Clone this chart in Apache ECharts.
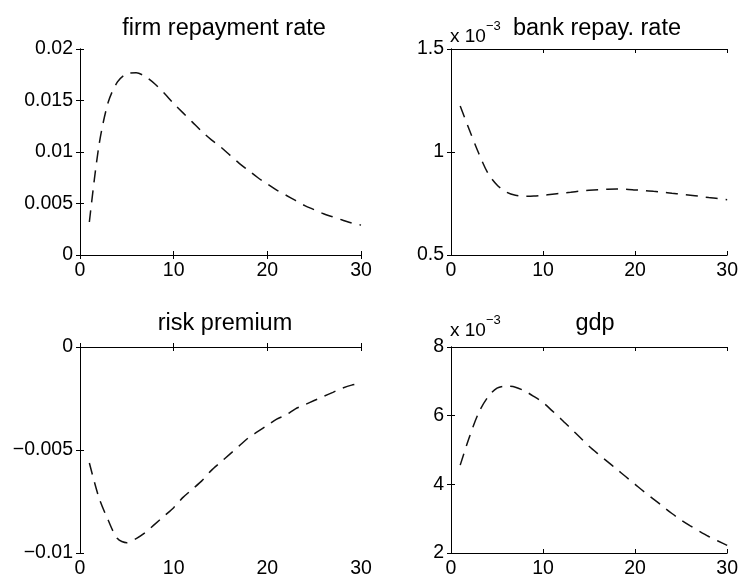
<!DOCTYPE html>
<html>
<head>
<meta charset="utf-8">
<script src="https://cdn.jsdelivr.net/npm/echarts@6/dist/echarts.min.js"></script>
<style>html,body{margin:0;padding:0;background:#fff}#c{width:741px;height:580px}</style>
</head>
<body>
<div id="c"></div>
<script>
var periods = [];
for (var i = 1; i <= 30; i++) periods.push(i);

var firmRepay = [0.0032,0.0105,0.0148,0.0168,0.0176,0.0177,0.0173,0.0166,0.0157,0.0147,
  0.0138,0.0129,0.0120,0.0112,0.0105,0.0097,0.0089,0.0082,0.0075,0.0069,
  0.0063,0.0058,0.0053,0.0048,0.0044,0.0040,0.0037,0.0034,0.0031,0.0029];

var bankRepay = [0.001223,0.001107,0.000995,0.000898,0.000840,0.000806,0.000790,0.000785,0.000786,0.000790,
  0.000795,0.000800,0.000805,0.000810,0.000814,0.000817,0.000819,0.000820,0.000819,0.000816,
  0.000813,0.000809,0.000805,0.000800,0.000795,0.000790,0.000785,0.000779,0.000774,0.000768];

var riskPremium = [-0.00563,-0.00728,-0.0084,-0.0093,-0.0095,-0.0093,-0.0090,-0.0086,-0.0082,-0.0078,
  -0.0073,-0.0069,-0.0065,-0.0060,-0.0056,-0.0052,-0.0048,-0.0044,-0.0041,-0.0038,
  -0.0035,-0.0033,-0.0030,-0.0028,-0.0026,-0.0024,-0.0022,-0.0020,-0.00185,-0.00175];

var gdp = [0.00456,0.00538,0.00608,0.00654,0.00680,0.00686,0.00683,0.00672,0.00656,0.00638,
  0.00614,0.00589,0.00563,0.00537,0.00511,0.00488,0.00466,0.00444,0.00422,0.00400,
  0.00378,0.00357,0.00336,0.00315,0.00296,0.00279,0.00263,0.00248,0.00235,0.00222];

var titles = ['firm repayment rate', 'bank repay. rate', 'risk premium', 'gdp'];
var yMins = [0, 0.0005, -0.01, 0.002];
var yMaxs = [0.02, 0.0015, 0, 0.008];
var yIntervals = [0.005, 0.0005, 0.005, 0.002];
var yScales = [1, 1000, 1, 1000];
var seriesData = [firmRepay, bankRepay, riskPremium, gdp];
var xTicks = [0, 10, 20, 30];

var FONT = 'Liberation Sans, Arial, sans-serif';
var grids = [
  {left: 80, top: 49, width: 281, height: 206},
  {left: 451, top: 49, width: 280, height: 206},
  {left: 80, top: 347, width: 281, height: 206},
  {left: 451, top: 347, width: 280, height: 206}
];
var titlePos = [[219, 12], [592, 12], [220, 307], [590, 307]];

var option = {
  animation: false,
  backgroundColor: '#fff',
  title: [], grid: [], xAxis: [], yAxis: [], series: [],
  graphic: []
};

function fmtNum(v, s) {
  var n = +(v * s).toFixed(6);
  var str = String(n);
  if (n < 0) str = '\u2212' + String(-n);
  return str;
}

for (var k = 0; k < 4; k++) {
  option.grid.push(grids[k]);
  option.title.push({
    text: titles[k], left: titlePos[k][0], top: titlePos[k][1], textAlign: 'center',
    textStyle: {fontFamily: FONT, fontSize: 23.5, fontWeight: 'normal', color: '#000'}
  });
  var axisLine = {show: true, lineStyle: {color: '#000', width: 1}};
  var tick = {show: true, inside: true, length: 4, lineStyle: {color: '#000'}};
  option.xAxis.push({
    type: 'value', gridIndex: k, min: 0, max: 30, interval: 10, position: 'bottom',
    axisLine: axisLine, axisTick: tick, splitLine: {show: false},
    axisLabel: {fontFamily: FONT, fontSize: 19.5, color: '#000', margin: 6}
  });
  option.xAxis.push({
    type: 'value', gridIndex: k, min: 0, max: 30, interval: 10, position: 'top',
    axisLine: axisLine, axisTick: tick, splitLine: {show: false}, axisLabel: {show: false}
  });
  (function (s) {
    option.yAxis.push({
      type: 'value', gridIndex: k, min: yMins[k], max: yMaxs[k], interval: yIntervals[k], position: 'left',
      axisLine: axisLine, axisTick: tick, splitLine: {show: false},
      axisLabel: {fontFamily: FONT, fontSize: 19.5, color: '#000', margin: 7,
        formatter: function (v) { return fmtNum(v, s); }}
    });
  })(yScales[k]);
  option.yAxis.push({
    type: 'value', gridIndex: k, min: yMins[k], max: yMaxs[k], interval: yIntervals[k], position: 'right',
    axisLine: axisLine, axisTick: tick, splitLine: {show: false}, axisLabel: {show: false}
  });
  var pts = [];
  for (var j = 0; j < periods.length; j++) pts.push([periods[j], seriesData[k][j]]);
  option.series.push({
    type: 'line', xAxisIndex: 2 * k, yAxisIndex: 2 * k, data: pts, showSymbol: false,
    smooth: 0.3, lineStyle: {color: '#111', width: 1.5, type: [12, 8]}
  });
}

var expPos = [[450, 27], [450, 321]];
expPos.forEach(function (p) {
  option.graphic.push({
    type: 'text', left: p[0], top: p[1],
    style: {text: 'x 10', font: '19px ' + FONT, fill: '#000'}
  });
  option.graphic.push({
    type: 'text', left: p[0] + 36, top: p[1] - 7,
    style: {text: '\u22123', font: '13px ' + FONT, fill: '#000'}
  });
});

var chart = echarts.init(document.getElementById('c'), null, {renderer: 'canvas'});
chart.setOption(option);
</script>
</body>
</html>
